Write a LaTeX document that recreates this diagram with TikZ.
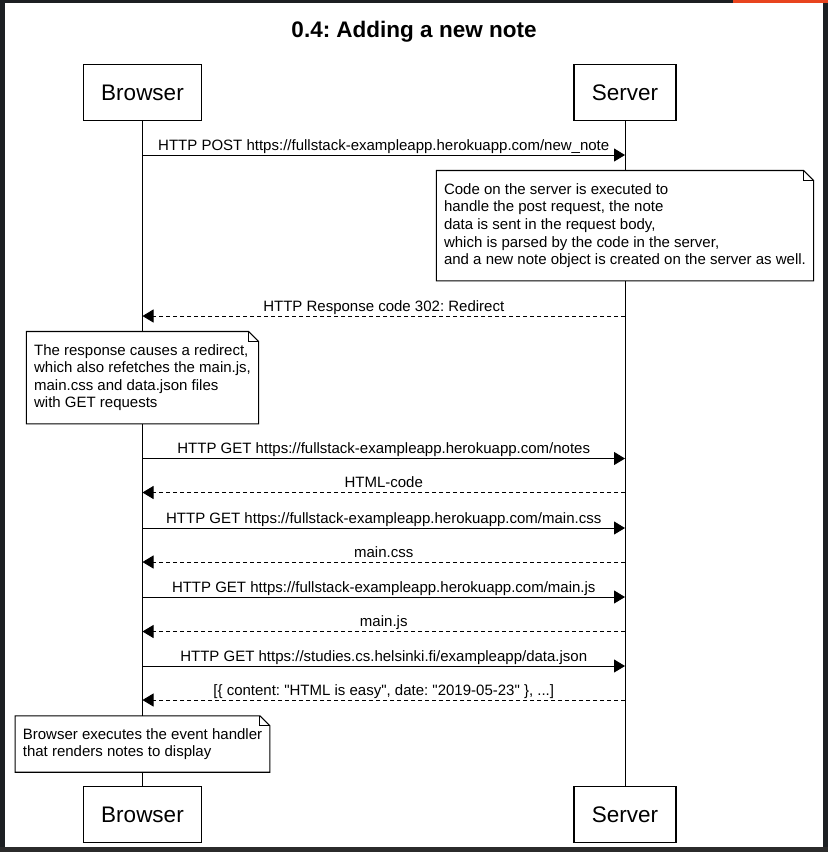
\documentclass[tikz,border=0pt]{standalone}
\usepackage{fontspec}
\setmainfont{Liberation Sans}
\newfontfamily\plainsans{Liberation Sans}
\usetikzlibrary{arrows.meta}
\definecolor{framedark}{HTML}{1C1F22}
\definecolor{framebot}{HTML}{2B2B2B}
\definecolor{accent}{HTML}{E8441E}
\newcommand\drawnote[1]{%
  \draw[notepath] (#1.north west) -- ([xshift=-10pt]#1.north east) -- ([yshift=-10pt]#1.north east) -- (#1.south east) -- (#1.south west) -- cycle;
  \draw[notepath] ([xshift=-10pt]#1.north east) -- ([xshift=-10pt,yshift=-10pt]#1.north east) -- ([yshift=-10pt]#1.north east);}
\def\bx{142.5}
\def\sx{625}
\frenchspacing
\begin{document}
\begin{tikzpicture}[x=1pt,y=-1pt,
  actor/.style={draw, line width=1.3pt, fill=white, minimum height=56pt, inner xsep=18pt, inner ysep=0pt, font=\fontsize{22.5}{27}\selectfont},
  life/.style={line width=0.9pt},
  lbl/.style={font=\plainsans\fontsize{15}{17.6}\selectfont, anchor=base, yshift=5pt, inner sep=0pt},
  req/.style={line width=0.9pt, -{Triangle[length=11pt,width=13pt]}},
  resp/.style={req, dash pattern=on 4pt off 3pt},
  note/.style={fill=white, inner xsep=7.5pt, inner ysep=0pt, align=left, font=\fontsize{15}{17.6}\selectfont},
  notepath/.style={line width=1.1pt}]
% frame
\fill[framedark] (0,0) rectangle (828,852);
\fill[framebot] (0,846.7) rectangle (828,852);
\fill[accent] (733,0) rectangle (828,2.7);
\fill[white] (4.7,2.7) rectangle (822.7,846.7);
\useasboundingbox (0,0) rectangle (828,852);
% title
\node[font=\bfseries\fontsize{22.5}{27}\selectfont] (title) at (414,32) {0.4: Adding a new note};
% actors
\node[actor] (bT) at (\bx,92.4) {Browser};
\node[actor] (sT) at (\sx,92.4) {Server};
\node[actor] (bB) at (\bx,814.7) {Browser};
\node[actor] (sB) at (\sx,814.7) {Server};
\draw[life] (bT) -- (bB);
\draw[life] (sT) -- (sB);
% message points
\foreach \n/\y in {1/155,2/316,3/458.5,4/492.5,5/528,6/562,7/597,8/631.5,9/666,10/700}{
  \coordinate (b\n) at (\bx,\y);
  \coordinate (s\n) at (\sx,\y);
}
\draw[req] (b1) -- node[lbl] (m1) {HTTP POST https://fullstack-exampleapp.herokuapp.com/new\_note} (s1);
\node[note, minimum height=110pt] (n1) at (\sx,225.7) {Code on the server is executed to\\handle the post request, the note\\data is sent in the request body,\\which is parsed by the code in the server,\\and a new note object is created on the server as well.};
\drawnote{n1}
\draw[resp] (s2) -- node[lbl] (m2) {HTTP Response code 302: Redirect} (b2);
\node[note, minimum height=92pt] (n2) at (\bx,377.7) {The response causes a redirect,\\which also refetches the main.js,\\main.css and data.json files\\with GET requests};
\drawnote{n2}
\draw[req] (b3) -- node[lbl] (m3) {HTTP GET https://fullstack-exampleapp.herokuapp.com/notes} (s3);
\draw[resp] (s4) -- node[lbl] (m4) {HTML-code} (b4);
\draw[req] (b5) -- node[lbl] (m5) {HTTP GET https://fullstack-exampleapp.herokuapp.com/main.css} (s5);
\draw[resp] (s6) -- node[lbl] (m6) {main.css} (b6);
\draw[req] (b7) -- node[lbl] (m7) {HTTP GET https://fullstack-exampleapp.herokuapp.com/main.js} (s7);
\draw[resp] (s8) -- node[lbl] (m8) {main.js} (b8);
\draw[req] (b9) -- node[lbl] (m9) {HTTP GET https://studies.cs.helsinki.fi/exampleapp/data.json} (s9);
\draw[resp] (s10) -- node[lbl] (m10) {[\{ content: "HTML is easy", date: "2019-05-23" \}, ...]} (b10);
\node[note, minimum height=56pt] (n3) at (\bx,744) {Browser executes the event handler\\that renders notes to display};
\drawnote{n3}
\end{tikzpicture}
\end{document}
